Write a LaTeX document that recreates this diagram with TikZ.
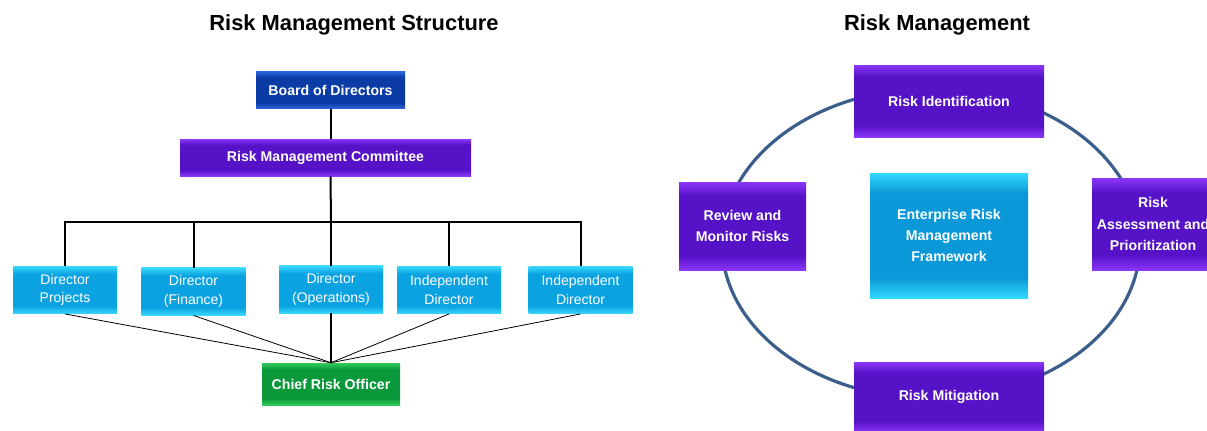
\documentclass[tikz,border=0pt]{standalone}
\usepackage{fontspec}
\setmainfont{Liberation Sans}
\usetikzlibrary{positioning,calc}
\definecolor{boardlo}{HTML}{0B3CA6}
\definecolor{boardhi}{HTML}{2C64DA}
\definecolor{dirlo}{HTML}{0BA2E2}
\definecolor{dirhi}{HTML}{3AD8FA}
\definecolor{crolo}{HTML}{0A983A}
\definecolor{crohi}{HTML}{30CA5A}
\definecolor{purplo}{HTML}{5512C6}
\definecolor{purphi}{HTML}{8C36F8}
\definecolor{erflo}{HTML}{0A98D8}
\definecolor{erfhi}{HTML}{30DAFC}
\definecolor{ringcol}{HTML}{3B5E8C}
\colorlet{bevlo}{purplo}
\colorlet{bevhi}{purphi}
\pgfdeclareverticalshading[bevlo,bevhi]{bevel}{100bp}{color(0bp)=(bevhi); color(25bp)=(bevhi); color(33bp)=(bevlo); color(67bp)=(bevlo); color(75bp)=(bevhi); color(100bp)=(bevhi)}
\tikzset{
  box/.style={rectangle, inner sep=2pt, align=center, text=white, shading=bevel,
    font=\bfseries\fontsize{10.6}{16}\selectfont},
  boardbox/.style={box, /utils/exec={\colorlet{bevlo}{boardlo}\colorlet{bevhi}{boardhi}}},
  dirbox/.style={box, /utils/exec={\colorlet{bevlo}{dirlo}\colorlet{bevhi}{dirhi}},
    font=\fontsize{10.5}{14}\selectfont, minimum width=78pt, minimum height=35.5pt},
  crobox/.style={box, /utils/exec={\colorlet{bevlo}{crolo}\colorlet{bevhi}{crohi}}},
  purpbox/.style={box, /utils/exec={\colorlet{bevlo}{purplo}\colorlet{bevhi}{purphi}}},
  erfbox/.style={box, /utils/exec={\colorlet{bevlo}{erflo}\colorlet{bevhi}{erfhi}}},
  title/.style={font=\bfseries\fontsize{16.4}{20}\selectfont},
  tree/.style={line width=1.5pt},
  fan/.style={line width=0.6pt},
  ring/.style={line width=2.4pt, ringcol}
}
\begin{document}
\begin{tikzpicture}[x=0.75pt,y=-0.75pt]
  \useasboundingbox (0,0) rectangle (1207,430);
  % left: structure
  \node[title] (ttl) at (354,25) {Risk Management Structure};
  \node[boardbox, minimum width=111.75pt, minimum height=27.75pt] (board) at (330.5,90) {Board of Directors};
  \node[purpbox, minimum width=218.25pt, minimum height=27.75pt] (rmc) at (325.5,157.5) {Risk Management Committee};
  \node[dirbox] (dp) at (65,290) {Director\\Projects};
  \node[dirbox] (df) at (193.5,291.5) {Director\\(Finance)};
  \node[dirbox] (dop) at (331,289.5) {Director\\(Operations)};
  \node[dirbox] (di) at (449,290) {Independent\\Director};
  \node[dirbox] (dj) at (580.5,290) {Independent\\Director};
  \node[crobox, minimum width=103.5pt, minimum height=31.5pt] (cro) at (331,384) {Chief Risk Officer};
  \coordinate (bar) at (331,222);
  \draw[tree] (board.south) -- (board.south |- rmc.north);
  \draw[tree] (board.south |- rmc.south) -- (bar);
  \foreach \d in {dp,df,dop,di,dj} \draw[tree] (\d.north) |- (bar);
  \foreach \d in {dp,df,di,dj} \draw[fan] (\d.south) -- (cro.north);
  \draw[tree] (dop) -- (cro);
  % right: cycle
  \node[title] (ttr) at (937,25) {Risk Management};
  \coordinate (hub) at (931,243.5);
  \draw[ring] (hub) ellipse [x radius=209, y radius=155];
  \node[purpbox, minimum width=142.5pt, minimum height=54pt] (rid) at (949,101) {Risk Identification};
  \node[purpbox, minimum width=95.25pt, minimum height=66pt] (rev) at (742.5,226) {Review and\\Monitor Risks};
  \node[erfbox, minimum width=118.5pt, minimum height=93.75pt] (erf) at (949,235.5) {Enterprise Risk\\Management\\Framework};
  \node[purpbox, minimum width=91.5pt, minimum height=69pt] (ras) at (1153,224) {Risk\\Assessment and\\Prioritization};
  \node[purpbox, minimum width=142.5pt, minimum height=52.5pt] (rmi) at (949,397) {Risk Mitigation};
\end{tikzpicture}
\end{document}
